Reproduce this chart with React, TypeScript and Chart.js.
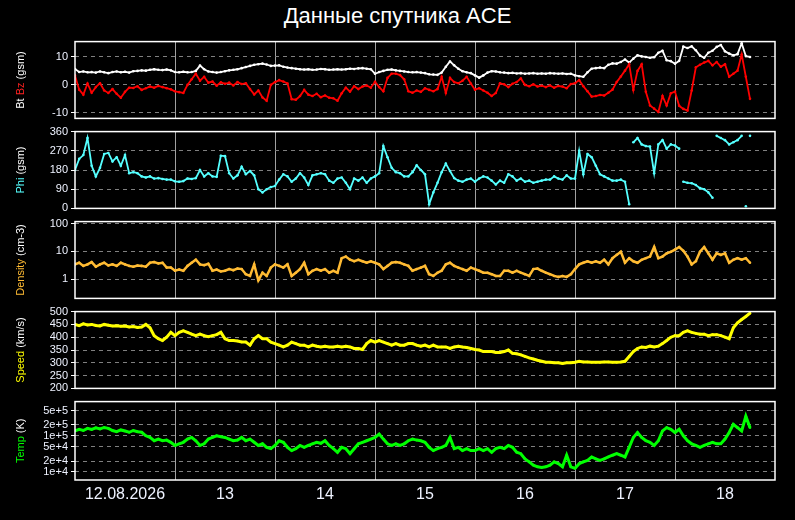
import { useEffect, useRef } from 'react';
import { Chart, registerables } from 'chart.js';

Chart.register(...registerables);

// hourly values, starting 12.08 00:00
const DAY_LABELS = ['12.08.2026', '13', '14', '15', '16', '17', '18'];
const DAY_TICKS = [0, 12, 24, 36, 48, 60, 72, 84, 96, 108, 120, 132, 144, 156, 168];

const BT = [
  5.7, 4.6, 4.8, 4.5, 4.6, 4.4, 4.8, 4.5, 4.2, 4.6, 4.8, 4.5, 4.7, 4.4, 4.9, 5.0, 5.2, 5.1, 5.4, 5.6, 5.4, 5.3, 5.5, 5.2,
  4.6, 4.5, 4.7, 4.5, 4.6, 5.0, 6.9, 5.6, 4.8, 4.6, 4.4, 4.6, 4.9, 5.2, 5.4, 5.6, 6.0, 6.4, 6.8, 7.2, 7.4, 7.6, 7.3, 6.8,
  6.9, 7.0, 6.5, 6.2, 6.0, 5.8, 5.6, 5.5, 5.6, 5.4, 5.5, 5.7, 5.6, 5.4, 5.5, 5.6, 5.5, 5.6, 5.8, 5.7, 5.9, 6.0, 5.8, 5.6,
  4.0, 4.6, 5.0, 5.4, 5.5, 5.2, 5.0, 4.8, 4.6, 4.5, 4.6, 4.4, 4.2, 3.8, 3.7, 3.6, 4.4, 6.5, 8.4, 7.0, 5.8, 4.9, 4.5, 4.2,
  3.4, 2.6, 3.4, 4.4, 4.9, 4.8, 4.5, 4.4, 4.2, 4.3, 4.1, 4.2, 4.0, 4.1, 4.2, 4.0, 4.1, 4.0, 4.2, 4.1, 4.0, 4.1, 3.9, 4.0,
  3.4, 3.1, 2.9, 4.5, 5.8, 6.0, 6.2, 6.0, 7.2, 7.7, 7.6, 8.2, 9.1, 8.0, 9.4, 10.6, 10.2, 10.0, 9.7, 9.9, 11.5, 12.2, 8.8, 8.5,
  7.6, 8.6, 13.7, 13.2, 13.8, 12.4, 10.5, 9.7, 11.5, 12.2, 13.6, 14.3, 12.0, 11.2, 10.6, 11.0, 14.9, 10.3, 10.0,
];

const BZ = [
  3.4, -1.7, -3.5, 0.5, -2.8, -0.8, 0.6, -2.0, -2.9, -1.5, -3.2, -4.6, -2.5, -1.0, -1.1, -0.5, -1.8, -1.2, -0.6, -1.0, -0.4, -0.8, -1.2, -1.6,
  -2.3, -2.6, -2.9, 0.0, 2.0, 4.0, 1.5, 2.9, 0.8, 1.2, -0.3, 0.9, 0.4, 0.8, -0.2, 1.0, 0.3, 0.6, -1.5, -3.4, -2.0, -4.5, -5.7, 0.0,
  1.0, 1.7, 1.2, 0.5, -5.1, -5.3, -4.0, -1.8, -3.5, -4.0, -3.2, -4.4, -3.8, -4.6, -4.8, -5.7, -3.0, -1.0, -2.4, -0.5, -1.5, -0.6, -0.2, -1.0,
  1.1, -0.8, -2.3, 2.5, 4.0, 4.0, 3.5, 2.0, -2.3, -2.8, -2.0, -2.5, -1.2, -1.8, -2.3, -1.5, 2.9, -2.9, 2.5, 1.0, 0.6, 1.5, 2.9, 0.5,
  -1.7, -1.2, -2.0, -2.8, -4.0, -2.9, 0.6, 0.2, -0.8, 0.4, 1.0, 2.3, 0.0, -0.5, 0.2, -0.6, -0.3, -0.8, -0.2, -1.0, -0.4, -0.6, -1.2, 0.3,
  0.6, 1.7, -0.5, -2.3, -4.2, -4.0, -3.6, -3.8, -2.8, -1.7, 1.0, 3.0, 5.1, 7.4, -1.8, 5.0, 7.4, -2.5, -7.4, -8.5, -9.7, -4.0, -7.4, -3.0,
  -2.4, -7.5, -8.6, -9.2, -2.0, 6.3, 7.2, 8.0, 8.6, 7.0, 8.2, 6.5, 7.4, 2.9, 4.0, 5.1, 10.9, 2.9, -5.0,
];

const PHI = [
  180, 232, 250, 330, 200, 150, 190, 255, 260, 220, 240, 200, 250, 165, 170, 165, 150, 145, 150, 140, 142, 138, 135, 135,
  127, 125, 128, 140, 138, 142, 180, 150, 165, 150, 148, 247, 245, 165, 140, 155, 195, 160, 175, 155, 90, 75, 90, 100,
  105, 135, 160, 150, 125, 140, 165, 145, 110, 155, 160, 165, 160, 130, 120, 140, 145, 120, 90, 140, 130, 145, 120, 140,
  150, 165, 292, 240, 190, 170, 165, 150, 150, 170, 202, 180, 160, 20, 75, 120, 170, 210, 175, 142, 130, 125, 135, 140,
  125, 140, 150, 145, 130, 112, 130, 120, 160, 150, 130, 140, 125, 130, 120, 125, 130, 135, 135, 150, 140, 135, 155, 140,
  140, 270, 160, 255, 240, 200, 160, 150, 140, 130, 130, 135, 125, 20, 310, 330, 300, 292, 290, 165, 300, 320, 280, 300,
  295, 280, 125, 120, 118, 110, 95, 90, 75, 50, 340, 330, 320, 300, 310, 320, 340, 10, 340,
];

const DENSITY = [
  3.4, 3.9, 3.0, 3.4, 4.1, 2.8, 3.4, 3.9, 3.1, 3.4, 3.0, 3.9, 3.4, 3.0, 2.8, 3.1, 3.0, 2.8, 3.9, 4.1, 3.7, 3.9, 2.6, 2.6,
  2.0, 2.2, 2.0, 3.0, 3.9, 5.0, 3.4, 3.2, 3.6, 2.0, 2.2, 1.9, 2.0, 2.3, 2.1, 2.4, 2.3, 1.5, 1.3, 3.4, 0.9, 1.7, 1.3, 2.6,
  3.4, 3.0, 2.6, 3.4, 1.3, 1.7, 2.3, 3.9, 1.5, 2.0, 2.3, 2.0, 2.3, 1.7, 2.0, 1.7, 5.7, 6.5, 5.0, 4.4, 5.0, 4.4, 3.9, 4.4,
  3.9, 3.4, 2.3, 3.0, 3.9, 4.1, 3.9, 3.4, 3.0, 2.0, 2.3, 2.6, 3.0, 1.5, 1.3, 1.7, 2.0, 3.4, 3.9, 3.0, 2.6, 2.3, 2.0, 2.6,
  2.3, 2.0, 1.7, 1.7, 1.5, 1.3, 1.3, 2.0, 2.0, 1.7, 2.0, 1.7, 1.5, 1.3, 2.3, 2.4, 2.0, 1.7, 1.5, 1.3, 1.2, 1.3, 1.2, 1.5,
  2.3, 3.4, 3.9, 4.4, 3.9, 4.4, 3.9, 5.0, 3.4, 5.7, 7.5, 9.7, 3.9, 5.7, 4.4, 3.9, 5.0, 5.7, 6.5, 14.5, 5.7, 6.5, 8.5, 9.7,
  11.7, 14.5, 10.5, 6.5, 3.4, 4.4, 9.7, 14.5, 8.5, 5.0, 8.5, 7.5, 8.5, 3.9, 5.0, 5.7, 5.0, 5.7, 3.9,
];

const SPEED = [
  450, 445, 452, 448, 450, 446, 444, 450, 447, 444, 445, 443, 444, 440, 442, 438, 440, 450, 437, 406, 394, 387, 400, 419,
  406, 419, 425, 419, 412, 406, 412, 406, 402, 406, 410, 419, 394, 387, 387, 385, 381, 381, 369, 394, 406, 394, 394, 381,
  375, 369, 362, 369, 381, 375, 369, 369, 362, 369, 365, 362, 365, 362, 362, 365, 362, 365, 362, 356, 356, 352, 375, 387,
  381, 387, 381, 375, 369, 375, 369, 369, 375, 375, 369, 365, 369, 362, 369, 362, 362, 362, 356, 362, 365, 362, 360, 356,
  352, 350, 344, 344, 344, 340, 340, 344, 350, 337, 335, 331, 325, 319, 315, 310, 306, 302, 302, 300, 300, 297, 300, 300,
  302, 306, 303, 303, 302, 302, 302, 303, 303, 302, 302, 303, 306, 325, 344, 356, 362, 360, 365, 362, 365, 375, 387, 400,
  406, 406, 419, 425, 419, 415, 412, 412, 406, 410, 410, 406, 400, 394, 437, 456, 469, 481, 494,
];

const TEMP = [
  1.36e5, 1.51e5, 1.4e5, 1.6e5, 1.5e5, 1.65e5, 1.55e5, 1.7e5, 1.6e5, 1.4e5, 1.3e5, 1.45e5, 1.35e5, 1.25e5, 1.4e5, 1.3e5, 1.25e5, 1.0e5, 9.0e4, 7.3e4, 8.1e4, 7.3e4, 7.6e4, 6.6e4,
  5.4e4, 6.0e4, 6.6e4, 8.1e4, 9.0e4, 7.3e4, 5.4e4, 6.0e4, 8.1e4, 9.0e4, 1.0e5, 9.4e4, 9.0e4, 8.1e4, 7.3e4, 7.6e4, 9.0e4, 7.3e4, 8.1e4, 6.6e4, 5.4e4, 6.0e4, 4.8e4, 4.4e4,
  5.4e4, 7.3e4, 6.6e4, 4.8e4, 3.9e4, 4.4e4, 5.4e4, 4.8e4, 5.4e4, 6.0e4, 6.6e4, 6.2e4, 7.3e4, 5.4e4, 4.4e4, 3.5e4, 4.8e4, 4.4e4, 3.2e4, 4.4e4, 6.0e4, 6.6e4, 7.3e4, 8.1e4,
  9.0e4, 1.11e5, 8.1e4, 6.0e4, 5.4e4, 6.0e4, 5.4e4, 6.0e4, 7.3e4, 8.1e4, 7.6e4, 7.3e4, 6.6e4, 4.8e4, 3.9e4, 4.4e4, 4.8e4, 5.4e4, 9.0e4, 4.4e4, 4.8e4, 3.9e4, 4.4e4, 3.9e4,
  3.9e4, 4.4e4, 3.9e4, 4.4e4, 3.5e4, 4.4e4, 4.8e4, 4.4e4, 5.4e4, 4.8e4, 3.5e4, 3.2e4, 2.3e4, 1.9e4, 1.55e4, 1.39e4, 1.34e4, 1.39e4, 1.55e4, 1.9e4, 1.7e4, 1.39e4, 2.9e4, 1.39e4,
  1.26e4, 1.7e4, 1.9e4, 2.1e4, 2.6e4, 2.3e4, 2.1e4, 2.3e4, 2.6e4, 2.9e4, 3.2e4, 2.9e4, 2.6e4, 4.8e4, 9.0e4, 1.23e5, 9.0e4, 7.3e4, 6.6e4, 5.4e4, 7.3e4, 1.36e5, 1.68e5, 1.51e5,
  1.23e5, 1.51e5, 1.0e5, 7.3e4, 6.0e4, 5.4e4, 4.8e4, 5.4e4, 6.0e4, 6.6e4, 6.0e4, 6.0e4, 8.1e4, 1.23e5, 2.07e5, 1.68e5, 1.36e5, 3.47e5, 1.68e5,
];

const BZ_TICKS = [-10, 0, 10];
const PHI_TICKS = [0, 90, 180, 270, 360];
const DENSITY_TICKS = [1, 10, 100];
const SPEED_TICKS = [200, 250, 300, 350, 400, 450, 500];
const TEMP_TICKS = [1e4, 2e4, 5e4, 1e5, 2e5, 5e5];
const TEMP_TICK_LABELS = ['1e+4', '2e+4', '5e+4', '1e+5', '2e+5', '5e+5'];

const FONT = '"Liberation Sans", Arial, sans-serif';
const TICK_COLOR = '#eef2ff';

type Part = { text: string; color: string };

const toPoints = (vals: number[]) => vals.map((v, i) => ({ x: i, y: v }));

const frame = {
  id: 'frame',
  afterDraw(chart: any) {
    const { ctx, chartArea: a } = chart;
    ctx.save();
    ctx.strokeStyle = '#fff';
    ctx.lineWidth = 1.5;
    ctx.strokeRect(a.left, a.top, a.right - a.left, a.bottom - a.top);
    ctx.restore();
  },
};

const sideLabel = {
  id: 'sideLabel',
  afterDraw(chart: any, _args: any, opts: any) {
    const parts: Part[] = opts.parts || [];
    if (!parts.length) return;
    const { ctx, chartArea: a } = chart;
    ctx.save();
    ctx.font = `11px ${FONT}`;
    const total = parts.reduce((s, p) => s + ctx.measureText(p.text).width, 0);
    ctx.translate(21, (a.top + a.bottom) / 2);
    ctx.rotate(-Math.PI / 2);
    ctx.textBaseline = 'middle';
    let x = -total / 2;
    for (const p of parts) {
      ctx.fillStyle = p.color;
      ctx.fillText(p.text, x, 0);
      x += ctx.measureText(p.text).width;
    }
    ctx.restore();
  },
};

function xScale(showLabels: boolean) {
  return {
    type: 'linear',
    min: 0,
    max: 168,
    afterBuildTicks: (s: any) => {
      s.ticks = DAY_TICKS.map((v) => ({ value: v }));
    },
    afterFit: (s: any) => {
      s.height = showLabels ? 30 : 0;
    },
    grid: {
      color: (c: any) => {
        const v = c.tick ? c.tick.value : 0;
        return v % 24 === 0 && v > 0 && v < 168 ? '#a0a0a0' : 'rgba(0,0,0,0)';
      },
      drawTicks: false,
      lineWidth: 1,
    },
    border: { display: false },
    ticks: {
      display: showLabels,
      autoSkip: false,
      maxRotation: 0,
      padding: 5,
      color: TICK_COLOR,
      font: { size: 16, family: FONT },
      callback: (v: number) => (v % 24 === 12 ? DAY_LABELS[(v - 12) / 24] : ''),
    },
  };
}

function yScale(type: string, min: number, max: number, ticks: number[], labels?: string[]) {
  return {
    type,
    min,
    max,
    afterBuildTicks: (s: any) => {
      s.ticks = ticks.map((v) => ({ value: v }));
    },
    afterFit: (s: any) => {
      s.width = 75;
    },
    grid: {
      color: '#808080',
      lineWidth: 1,
      tickColor: '#fff',
      tickLength: 4,
      tickWidth: 1,
    },
    border: { display: false, dash: [4, 4] },
    ticks: {
      color: TICK_COLOR,
      padding: 3,
      autoSkip: false,
      font: { size: 11, family: FONT },
      callback: (v: number) => {
        const i = ticks.indexOf(v);
        return labels && i >= 0 ? labels[i] : String(v);
      },
    },
  };
}

function series(vals: number[], color: string, width = 2, wrap = false) {
  return {
    data: toPoints(vals),
    borderColor: color,
    backgroundColor: color,
    borderWidth: width,
    pointRadius: 1.3,
    pointBorderWidth: 0,
    pointBackgroundColor: color,
    tension: 0,
    // angle wraps round 0/360: don't join across it
    segment: wrap
      ? {
          borderColor: (c: any) =>
            Math.abs(c.p1.parsed.y - c.p0.parsed.y) > 150 ? 'rgba(0,0,0,0)' : color,
        }
      : undefined,
  };
}

type PanelProps = {
  top: number;
  datasets: any[];
  y: any;
  label: Part[];
  showX?: boolean;
};

function Panel({ top, datasets, y, label, showX = false }: PanelProps) {
  const canvasRef = useRef<HTMLCanvasElement>(null);
  const height = showX ? 118 : 96;

  useEffect(() => {
    if (!canvasRef.current) return;
    const chart = new Chart(canvasRef.current, {
      type: 'line',
      data: { datasets },
      options: {
        responsive: false,
        animation: false,
        devicePixelRatio: 1,
        layout: { padding: { left: 0, right: 20, top: 8, bottom: showX ? 0 : 8 } },
        plugins: {
          legend: { display: false },
          tooltip: { enabled: false },
          sideLabel: { parts: label },
        } as any,
        scales: { x: xScale(showX), y } as any,
      },
      plugins: [frame, sideLabel],
    });
    return () => chart.destroy();
  }, []);

  return (
    <canvas
      ref={canvasRef}
      width={795}
      height={height}
      style={{ position: 'absolute', left: 0, top: top - 8, width: 795, height }}
    />
  );
}

export default function App() {
  return (
    <div
      style={{
        position: 'fixed',
        left: 0,
        top: 0,
        width: 795,
        height: 520,
        background: '#000',
        overflow: 'hidden',
      }}
    >
      <div
        style={{
          position: 'absolute',
          top: 3,
          left: 0,
          width: 795,
          textAlign: 'center',
          color: '#fff',
          font: `22px ${FONT}`,
        }}
      >
        Данные спутника ACE
      </div>
      <Panel
        top={40}
        datasets={[series(BZ, '#ff0000', 1.8), series(BT, '#ffffff', 1.8)]}
        y={yScale('linear', -12, 15.5, BZ_TICKS)}
        label={[
          { text: 'Bt ', color: '#fff' },
          { text: 'Bz', color: '#ff2020' },
          { text: ' (gsm)', color: '#fff' },
        ]}
      />
      <Panel
        top={130}
        datasets={[series(PHI, '#55ffff', 1.8, true)]}
        y={yScale('linear', 0, 360, PHI_TICKS)}
        label={[
          { text: 'Phi', color: '#55ffff' },
          { text: ' (gsm)', color: '#fff' },
        ]}
      />
      <Panel
        top={220}
        datasets={[series(DENSITY, '#ffbb33', 2.5)]}
        y={yScale('logarithmic', 0.2, 120, DENSITY_TICKS)}
        label={[
          { text: 'Density', color: '#ffbb33' },
          { text: ' (cm-3)', color: '#fff' },
        ]}
      />
      <Panel
        top={310}
        datasets={[series(SPEED, '#ffff00', 3)]}
        y={yScale('linear', 200, 500, SPEED_TICKS)}
        label={[
          { text: 'Speed', color: '#ffff00' },
          { text: ' (km/s)', color: '#fff' },
        ]}
      />
      <Panel
        top={400}
        datasets={[series(TEMP, '#00ff00', 3)]}
        y={yScale('logarithmic', 6e3, 8.8e5, TEMP_TICKS, TEMP_TICK_LABELS)}
        label={[
          { text: 'Temp', color: '#00ff00' },
          { text: ' (K)', color: '#fff' },
        ]}
        showX
      />
    </div>
  );
}
